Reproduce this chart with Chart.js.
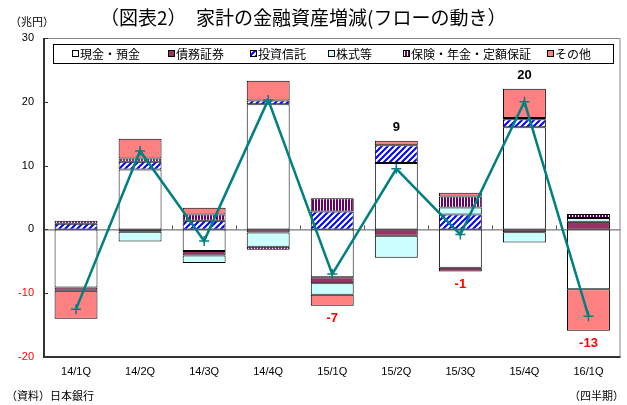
<!DOCTYPE html>
<html lang="ja">
<head>
<meta charset="utf-8">
<title>家計の金融資産増減</title>
<script src="https://cdn.jsdelivr.net/npm/chart.js@4.4.1/dist/chart.umd.min.js"></script>
<style>
    html, body { margin: 0; padding: 0; background: #fff; }
    #wrap { position: relative; width: 627px; height: 405px; }
</style>
</head>
<body>
<div id="wrap"><canvas id="flow-chart"></canvas></div>
<script>
// Quarterly flows (兆円), null = no flow drawn
const quarters = ['14/1Q', '14/2Q', '14/3Q', '14/4Q', '15/1Q', '15/2Q', '15/3Q', '15/4Q', '16/1Q'];
const cashDeposits = [-9.1, 9.4, -3.4, 19.6, -7.5, 10.4, -6.0, 16.0, -9.4];
const debtSecurities = [-0.5, -0.35, -0.7, -0.5, -0.95, -1.0, -0.6, -0.45, 1.2];
const investmentTrusts = [0.9, 1.2, 1.35, 0.6, 2.8, 2.8, 2.35, 1.25, null];
const equities = [null, -1.55, -1.15, -2.2, -1.8, -3.45, 1.1, -1.6, 0.6];
const insurancePensions = [0.45, 0.5, 1.0, -0.5, 2.1, null, 1.7, 0.2, 0.6];
const others = [-4.4, 3.1, 1.05, 3.1, -1.7, 0.7, 0.6, 4.6, -6.5];
const netFlow = [-12.5, 12.3, -1.8, 20.3, -7.0, 9.5, -0.8, 20.0, -13.6];
const netLabels = ['', '', '', '', '-7', '9', '-1', '20', '-13'];

const yMin = -20;
const yMax = 30;
const yStep = 10;

const jpFont = '"Noto Sans CJK JP", "Liberation Sans", sans-serif';
const numFont = '"Liberation Sans", Arial, sans-serif';

function makePattern(kind, color) {
    const tile = document.createElement('canvas');
    const g = tile.getContext('2d');
    if (kind === 'diag') {
        tile.width = 6; tile.height = 6;
        g.fillStyle = '#fff';
        g.fillRect(0, 0, 6, 6);
        g.strokeStyle = color;
        g.lineWidth = 2;
        g.beginPath();
        g.moveTo(-1, 7); g.lineTo(7, -1);
        g.moveTo(-4, 4); g.lineTo(4, -4);
        g.moveTo(2, 10); g.lineTo(10, 2);
        g.stroke();
    } else {
        tile.width = 3; tile.height = 3;
        g.fillStyle = '#fff';
        g.fillRect(0, 0, 3, 3);
        g.fillStyle = color;
        g.fillRect(0, 0, 2, 3);
    }
    return document.createElement('canvas').getContext('2d').createPattern(tile, 'repeat');
}

const trustPattern = makePattern('diag', '#0000FF');
const insurancePattern = makePattern('stripe', '#660066');

function barSet(label, data, fill) {
    return {
        type: 'bar',
        label: label,
        data: data,
        backgroundColor: fill,
        borderColor: '#000',
        borderWidth: 1,
        borderSkipped: false,
        barPercentage: 0.67,
        categoryPercentage: 1,
        order: 1
    };
}

// Frame, zero line and inner tick marks
const framePlugin = {
    id: 'frame',
    beforeDatasetsDraw(chart) {
        const { ctx, chartArea: a, scales } = chart;
        const y0 = scales.y.getPixelForValue(0);
        const step = (a.right - a.left) / quarters.length;
        ctx.save();
        ctx.strokeStyle = '#555';
        ctx.lineWidth = 1;
        ctx.beginPath();
        ctx.moveTo(a.left, y0 + 0.5);
        ctx.lineTo(a.right, y0 + 0.5);
        for (let i = 1; i < quarters.length; i++) {
            const x = Math.round(a.left + step * i) + 0.5;
            ctx.moveTo(x, y0);
            ctx.lineTo(x, y0 - 4);
        }
        ctx.stroke();
        ctx.restore();
    },
    afterDraw(chart) {
        const { ctx, chartArea: a, scales } = chart;
        ctx.save();
        ctx.strokeStyle = '#888';
        ctx.lineWidth = 1;
        ctx.beginPath();
        ctx.moveTo(a.left, a.top + 0.5);
        ctx.lineTo(a.right - 0.5, a.top + 0.5);
        ctx.lineTo(a.right - 0.5, a.bottom);
        ctx.stroke();
        ctx.strokeStyle = '#333';
        ctx.lineWidth = 2;
        ctx.beginPath();
        ctx.moveTo(a.left, a.top);
        ctx.lineTo(a.left, a.bottom);
        ctx.lineTo(a.right, a.bottom);
        ctx.stroke();
        ctx.lineWidth = 1;
        ctx.beginPath();
        for (let v = yMin; v <= yMax; v += yStep) {
            const y = Math.round(scales.y.getPixelForValue(v)) + 0.5;
            ctx.moveTo(a.left, y);
            ctx.lineTo(a.left + 4, y);
        }
        ctx.stroke();
        ctx.restore();
    }
};

// Net totals written above / below the stacks
const netLabelPlugin = {
    id: 'netLabels',
    afterDatasetsDraw(chart) {
        const { ctx, scales } = chart;
        const bars = chart.data.datasets.filter(ds => ds.type === 'bar');
        ctx.save();
        ctx.font = 'bold 13px ' + numFont;
        ctx.textAlign = 'center';
        ctx.textBaseline = 'middle';
        netLabels.forEach((text, i) => {
            if (!text) return;
            let pos = 0, neg = 0;
            bars.forEach(ds => {
                const v = ds.data[i] || 0;
                if (v > 0) pos += v; else neg += v;
            });
            const x = scales.x.getPixelForValue(i);
            if (netFlow[i] >= 0) {
                ctx.fillStyle = '#000';
                ctx.fillText(text, x, scales.y.getPixelForValue(pos) - 13);
            } else {
                ctx.fillStyle = '#FF0000';
                ctx.fillText(text, x, scales.y.getPixelForValue(neg) + 13);
            }
        });
        ctx.restore();
    }
};

// Boxed legend inside the plot, plus title and notes
const legendPlugin = {
    id: 'boxLegend',
    afterDraw(chart) {
        const { ctx } = chart;
        const bars = chart.data.datasets.filter(ds => ds.type === 'bar');
        const itemX = [72, 168, 250, 328, 403, 547];
        ctx.save();
        ctx.fillStyle = '#fff';
        ctx.fillRect(53, 44, 560, 19);
        ctx.strokeStyle = '#000';
        ctx.lineWidth = 1;
        ctx.strokeRect(53.5, 44.5, 560, 19);
        ctx.font = '12px ' + jpFont;
        ctx.textBaseline = 'middle';
        bars.forEach((ds, i) => {
            const x = itemX[i];
            ctx.fillStyle = ds.backgroundColor;
            ctx.fillRect(x, 50, 6, 6);
            ctx.strokeStyle = '#000';
            ctx.strokeRect(x + 0.5, 50.5, 6, 6);
            ctx.fillStyle = '#000';
            ctx.fillText(ds.label, x + 8, 54);
        });

        ctx.fillStyle = '#000';
        ctx.font = '19px ' + jpFont;
        ctx.textAlign = 'left';
        ctx.fillText('（図表2）　家計の金融資産増減(フローの動き）', 100, 18);
        ctx.font = '11px ' + jpFont;
        ctx.fillText('（兆円）', 10, 22);
        ctx.fillText('（資料）日本銀行', 6, 396);
        ctx.textAlign = 'right';
        ctx.fillText('（四半期）', 624, 396);
        ctx.restore();
    }
};

const flowChart = new Chart(document.getElementById('flow-chart'), {
    data: {
        labels: quarters,
        datasets: [
            barSet('現金・預金', cashDeposits, '#FFFFFF'),
            barSet('債務証券', debtSecurities, '#993366'),
            barSet('投資信託', investmentTrusts, trustPattern),
            barSet('株式等', equities, '#CCFFFF'),
            barSet('保険・年金・定額保証', insurancePensions, insurancePattern),
            barSet('その他', others, '#FF8080'),
            {
                type: 'line',
                label: '合計',
                data: netFlow,
                borderColor: '#008080',
                borderWidth: 2.5,
                pointStyle: 'cross',
                pointRadius: 5,
                pointBorderWidth: 1.5,
                pointBorderColor: '#008080',
                tension: 0,
                fill: false,
                order: 0
            }
        ]
    },
    options: {
        responsive: true,
        maintainAspectRatio: false,
        animation: false,
        layout: {
            padding: { top: 38, right: 3, left: 0, bottom: 0 }
        },
        plugins: {
            legend: { display: false },
            tooltip: { enabled: false }
        },
        scales: {
            x: {
                stacked: true,
                grid: { display: false, drawTicks: false },
                border: { display: false },
                ticks: {
                    color: '#000',
                    padding: 8,
                    font: { family: numFont, size: 11 }
                },
                afterFit(scale) { scale.height = 48; }
            },
            y: {
                stacked: true,
                min: yMin,
                max: yMax,
                grid: { display: false, drawTicks: false },
                border: { display: false },
                ticks: {
                    stepSize: yStep,
                    padding: 10,
                    color: ctx => ctx.tick.value < 0 ? '#FF0000' : '#000',
                    font: { family: numFont, size: 11 }
                },
                afterFit(scale) { scale.width = 44; }
            }
        }
    },
    plugins: [framePlugin, netLabelPlugin, legendPlugin]
});
</script>
</body>
</html>
